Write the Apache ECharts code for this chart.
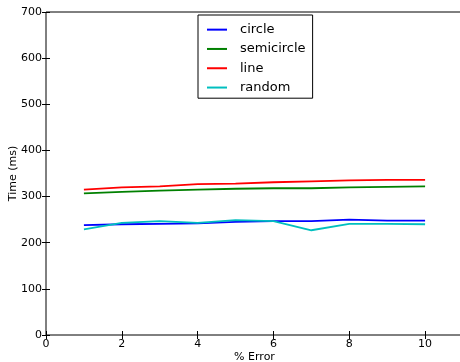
<!DOCTYPE html>
<html>
<head>
<meta charset="utf-8">
<script src="https://cdn.jsdelivr.net/npm/echarts@6/dist/echarts.min.js"></script>
<style>
  html, body { margin: 0; padding: 0; background: #fff; }
  #chart { width: 460px; height: 362px; }
</style>
</head>
<body>
<div id="chart"></div>
<script>
const errors = [1, 2, 3, 4, 5, 6, 7, 8, 9, 10]
const circle = [238, 240, 241, 242, 245, 247, 247, 250, 248, 248]
const semicircle = [307, 310, 313, 315, 317, 318, 318, 320, 321, 322]
const line = [315, 320, 322, 327, 328, 331, 333, 335, 336, 336]
const random = [229, 243, 247, 243, 249, 247, 227, 241, 241, 240]

const seriesNames = ['circle', 'semicircle', 'line', 'random']
const seriesColors = ['#0000ff', '#008000', '#ff0000', '#00bfbf']
const seriesData = [circle, semicircle, line, random]

const font = 'DejaVu Sans'
const chart = echarts.init(document.getElementById('chart'))

const tickStyle = { inside: true, length: 4, lineStyle: { color: '#000', width: 1 } }

chart.setOption({
  animation: false,
  backgroundColor: '#fff',
  textStyle: { fontFamily: font, color: '#000' },
  grid: {
    left: 46, right: -3, top: 12, bottom: 27,
    outerBoundsMode: 'none', containLabel: false,
    show: true, borderColor: '#000', borderWidth: 1, backgroundColor: 'transparent'
  },
  legend: {
    orient: 'vertical',
    left: 198, top: 15,
    data: seriesNames,
    icon: 'rect',
    itemWidth: 20, itemHeight: 2, itemGap: 0,
    padding: [5, 7, 1, 9],
    borderColor: '#000', borderWidth: 1, borderRadius: 0,
    textStyle: { fontFamily: font, fontSize: 13, color: '#000', lineHeight: 19.3, padding: [0, 0, 0, 8] }
  },
  xAxis: [
    {
      type: 'value', min: 0, max: 11, interval: 2,
      name: '% Error', nameLocation: 'middle', nameGap: 17, nameMoveOverlap: false,
      nameTextStyle: { fontFamily: font, fontSize: 11, color: '#000' },
      axisLine: { show: false },
      axisTick: tickStyle,
      splitLine: { show: false },
      axisLabel: { fontFamily: font, fontSize: 11, color: '#000', margin: 4, showMaxLabel: false,
        formatter: v => (v > 10 ? '' : v) }
    },
    {
      type: 'value', position: 'top', min: 0, max: 11, interval: 2,
      axisLine: { show: false }, axisTick: tickStyle,
      splitLine: { show: false }, axisLabel: { show: false }
    }
  ],
  yAxis: [
    {
      type: 'value', min: 0, max: 700, interval: 100,
      name: 'Time (ms)', nameLocation: 'middle', nameGap: 27, nameRotate: 90, nameMoveOverlap: false,
      nameTextStyle: { fontFamily: font, fontSize: 11, color: '#000' },
      axisLine: { show: false },
      axisTick: tickStyle,
      splitLine: { show: false },
      axisLabel: { fontFamily: font, fontSize: 11, color: '#000', margin: 4 }
    },
    {
      type: 'value', position: 'right', min: 0, max: 700, interval: 100,
      axisLine: { show: false }, axisTick: tickStyle,
      splitLine: { show: false }, axisLabel: { show: false }
    }
  ],
  series: seriesNames.map((name, i) => ({
    name: name,
    type: 'line',
    data: errors.map((x, j) => [x, seriesData[i][j]]),
    showSymbol: false,
    symbol: 'none',
    color: seriesColors[i],
    lineStyle: { color: seriesColors[i], width: 1.8 }
  }))
})
</script>
</body>
</html>
